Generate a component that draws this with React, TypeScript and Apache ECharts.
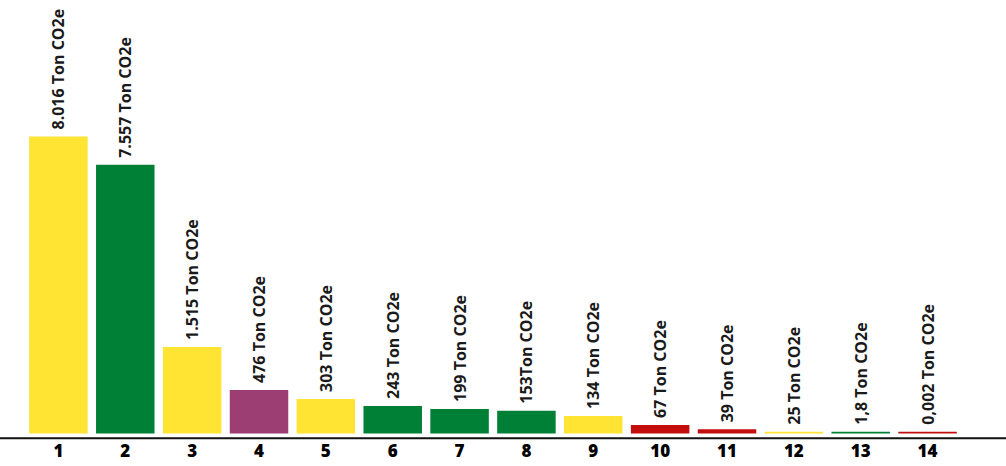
import React, { useEffect, useRef } from "react";
import * as echarts from "echarts";

const categories = ["1", "2", "3", "4", "5", "6", "7", "8", "9", "10", "11", "12", "13", "14"];
// Bar heights as drawn in the reference (the bars are not proportional to their labels)
const barHeights = [8016, 7252, 2336, 1175, 932, 743, 662, 616, 473, 230, 113, 49, 49, 49];
const labelTexts = [
  "8.016 Ton CO2e",
  "7.557 Ton CO2e",
  "1.515 Ton CO2e",
  "476 Ton CO2e",
  "303 Ton CO2e",
  "243 Ton CO2e",
  "199 Ton CO2e",
  "153Ton CO2e",
  "134 Ton CO2e",
  "67 Ton CO2e",
  "39 Ton CO2e",
  "25 Ton CO2e",
  "1,8 Ton CO2e",
  "0,002 Ton CO2e",
];
const barColors = [
  "#FFE433", "#008037", "#FFE433", "#9C3E74", "#FFE433", "#008037", "#008037",
  "#008037", "#FFE433", "#C40E0E", "#C40E0E", "#FFE433", "#008037", "#C40E0E",
];

export default function App() {
  const ref = useRef<HTMLDivElement>(null);
  useEffect(() => {
    if (!ref.current) return;
    const chart = echarts.init(ref.current, null, { renderer: "svg" });
    chart.setOption({
      animation: false,
      backgroundColor: "#ffffff",
      grid: { left: 25, right: 45, top: 0, bottom: 32.5, containLabel: false },
      xAxis: {
        type: "category",
        data: categories,
        axisLine: { show: false },
        axisTick: { show: false },
        axisLabel: {
          margin: 8,
          color: "#000000",
          fontFamily: "Open Sans",
          fontWeight: 800,
          fontSize: 17,
        },
      },
      yAxis: {
        type: "value",
        min: 0,
        max: 11700,
        show: false,
        splitLine: { show: false },
      },
      series: [
        {
          type: "bar",
          barCategoryGap: "12.5%",
          data: barHeights.map((v, i) => ({ value: v, itemStyle: { color: barColors[i] } })),
          label: {
            show: true,
            position: "top",
            rotate: 90,
            align: "left",
            verticalAlign: "middle",
            distance: 7,
            color: "#1a1a1a",
            fontFamily: "Open Sans",
            fontWeight: "bold",
            fontSize: 16,
            formatter: (p: any) => labelTexts[p.dataIndex],
          },
        },
      ],
      graphic: [
        {
          type: "line",
          shape: { x1: 0, y1: 438.3, x2: 1006, y2: 438.3 },
          style: { stroke: "#111111", lineWidth: 2 },
        },
      ],
    });
    return () => chart.dispose();
  }, []);
  return (
    <div
      ref={ref}
      style={{ position: "absolute", left: 0, top: 0, width: 1006, height: 466 }}
    />
  );
}
